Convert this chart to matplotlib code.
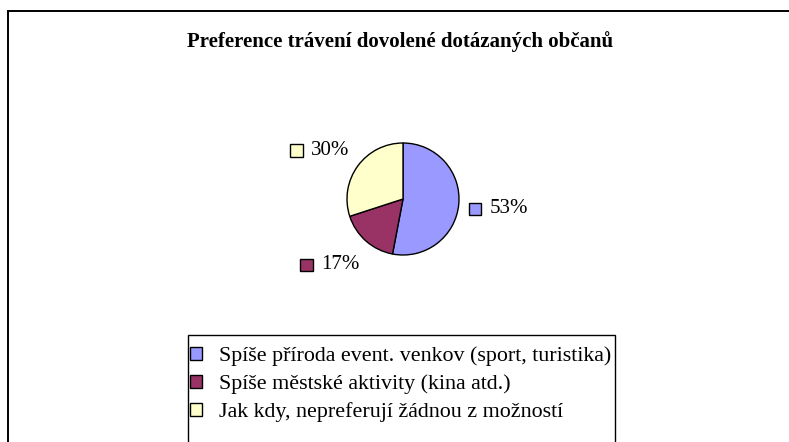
import numpy as np
import matplotlib
matplotlib.use("Agg")
import matplotlib.pyplot as plt
from matplotlib.patches import Rectangle
from matplotlib.offsetbox import DrawingArea, TextArea, HPacker, AnnotationBbox

title = "Preference trávení dovolené dotázaných občanů"
categories = ["Spíše příroda event. venkov (sport, turistika)",
              "Spíše městské aktivity (kina atd.)",
              "Jak kdy, nepreferují žádnou z možností"]
values = [53, 17, 30]
colors = ["#9999FF", "#993366", "#FFFFCC"]

W, H = 789, 442
fig = plt.figure(figsize=(W / 100, H / 100), dpi=100)
fig.patch.set_facecolor("white")
serif = ["Liberation Serif", "DejaVu Serif"]

def px(x, y, w, h):
    return [x / W, 1 - (y + h) / H, w / W, h / H]

# outer chart frame (cut by the image edges)
fig.patches.append(Rectangle((8 / W, -0.1), 1.2, 1 - 11 / H + 0.1, transform=fig.transFigure,
                             fill=False, edgecolor="black", linewidth=1.4))

fig.text(400 / W, 1 - 47 / H, title, ha="center", va="baseline", fontsize=15,
         fontweight="bold", family=serif)

cx, cy, r = 403, 199, 56
ax = fig.add_axes(px(cx - r, cy - r, 2 * r, 2 * r))
wedges, _ = ax.pie(values, colors=colors, startangle=90, counterclock=False, radius=1,
                   wedgeprops=dict(edgecolor="black", linewidth=1.0))
ax.set_xlim(-1, 1)
ax.set_ylim(-1, 1)
ax.axis("off")

for w, v, c in zip(wedges, values, colors):
    ang = np.deg2rad((w.theta1 + w.theta2) / 2)
    x, y = 1.18 * np.cos(ang), 1.53 * np.sin(ang) - 0.03
    da = DrawingArea(9.4, 9.4, 0, 0)
    da.add_artist(Rectangle((0, 0), 9.0, 9.0, facecolor=c, edgecolor="black", linewidth=1.0))
    ta = TextArea(f"{v}%", textprops=dict(fontsize=15, family=serif))
    box = HPacker(children=[da, ta], align="center", pad=0, sep=5.5)
    ab = AnnotationBbox(box, (x, y), xycoords="data", frameon=False,
                        box_alignment=(0 if np.cos(ang) > 0 else 1, 0.5),
                        annotation_clip=False, pad=0)
    ax.add_artist(ab)

# legend frame
fig.patches.append(Rectangle((188 / W, -0.1), (615 - 188) / W, 1 - 335 / H + 0.1,
                             transform=fig.transFigure, fill=False, edgecolor="black",
                             linewidth=1.0))
leg = fig.legend(wedges, categories, loc="upper left",
                 bbox_to_anchor=(188 / W, 1 - 344 / H), frameon=False,
                 prop=dict(family=serif, size=15.8), handlelength=0.53, handleheight=0.53,
                 handletextpad=0.76, labelspacing=0.38, borderpad=0.1, borderaxespad=0)
for h in leg.legend_handles:
    h.set_edgecolor("black")
    h.set_linewidth(1.0)

fig.savefig("out.png", dpi=100, facecolor="white")
